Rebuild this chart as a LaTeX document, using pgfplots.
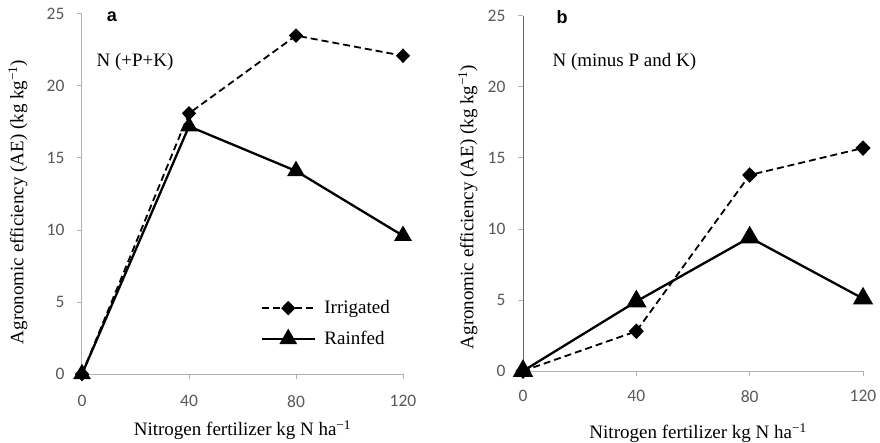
\documentclass[border=0pt]{standalone}
\usepackage{fontspec}
\setmainfont{Liberation Serif}
\newfontfamily\tickfont{Carlito}
\newfontfamily\panelfont{Liberation Sans}
\usepackage{pgfplots}
\pgfplotsset{compat=1.18}

\pgfplotsset{
  ae/.style={
    scale only axis, clip=false,
    xmin=0, xmax=120, ymin=0, ymax=25,
    xtick={0,40,80,120}, ytick={0,5,...,25},
    axis x line=bottom, axis y line=left,
    axis line style={-, draw=black!30, line width=1pt},
    tick style={draw=black!30, line width=1pt},
    tick align=outside, major tick length=5pt,
    ticklabel style={font=\tickfont\fontsize{17.5}{17.5}\selectfont, text=black!65},
    yticklabel style={xshift=-9pt},
    xticklabel style={yshift=-13pt},
    /pgf/number format/assume math mode=true,
    label style={font=\fontsize{19}{22}\selectfont},
    xlabel={Nitrogen fertilizer kg N ha\textsuperscript{−1}},
    ylabel={Agronomic efficiency (AE) (kg kg\textsuperscript{−1})},
    legend image code/.code={
      \draw[mark repeat=2, mark phase=2, #1] plot coordinates {(0pt,0pt) (26pt,0pt) (53pt,0pt)};
    },
  },
  irr/.style={black, line width=1.8pt, dash pattern=on 7pt off 4pt,
    mark=diamond*, mark size=#1, mark options={solid, xscale=1.3}},
  rain/.style={black, line width=2.3pt, mark=triangle*, mark size=#1,
    mark options={solid}},
}

\begin{document}
\begin{tikzpicture}[x=1pt, y=1pt]
\path[use as bounding box] (0,0) rectangle (880,442);

% panel a: N (+P+K)
\begin{axis}[ae,
  at={(82pt,68pt)}, anchor=south west, width=321pt, height=360pt,
  xlabel style={at={(axis description cs:0.5,-0.156)}, anchor=center},
  ylabel style={at={(axis description cs:-0.2,0.478)}, anchor=center, rotate=0},
  legend style={at={(axis description cs:0.548,0.215)}, anchor=north west,
    draw=none, fill=none, font=\fontsize{19}{22}\selectfont, row sep=12pt,
    legend cell align=left,
    nodes={inner xsep=8pt}},
]
\addplot[irr=6pt] coordinates {(0,0) (40,18.1) (80,23.5) (120,22.1)};
\addlegendentry{Irrigated}
\addplot[rain=8pt] coordinates {(0,0) (40,17.2) (80,14.1) (120,9.6)};
\addlegendentry{Rainfed}
\end{axis}

% panel b: N (minus P and K)
\begin{axis}[ae,
  at={(523pt,71pt)}, anchor=south west, width=340pt, height=355pt,
  xlabel style={at={(axis description cs:0.515,-0.175)}, anchor=center},
  ylabel style={at={(axis description cs:-0.162,0.462)}, anchor=center, rotate=0},
  xticklabel style={yshift=2pt},
  y axis line style={draw=black!60},
]
\addplot[irr=6.5pt] coordinates {(0,0) (40,2.8) (80,13.8) (120,15.7)};
\addplot[rain=9.5pt] coordinates {(0,0) (40,4.9) (80,9.4) (120,5.1)};
\end{axis}

\node[font=\panelfont\bfseries\fontsize{18}{18}\selectfont] at (112,425) {a};
\node[font=\panelfont\bfseries\fontsize{18}{18}\selectfont] at (562,425) {b};
\node[anchor=west, font=\fontsize{19}{22}\selectfont] at (93,380) {N (+P+K)};
\node[anchor=west, font=\fontsize{19}{22}\selectfont] at (549,380) {N (minus P and K)};
\end{tikzpicture}
\end{document}
